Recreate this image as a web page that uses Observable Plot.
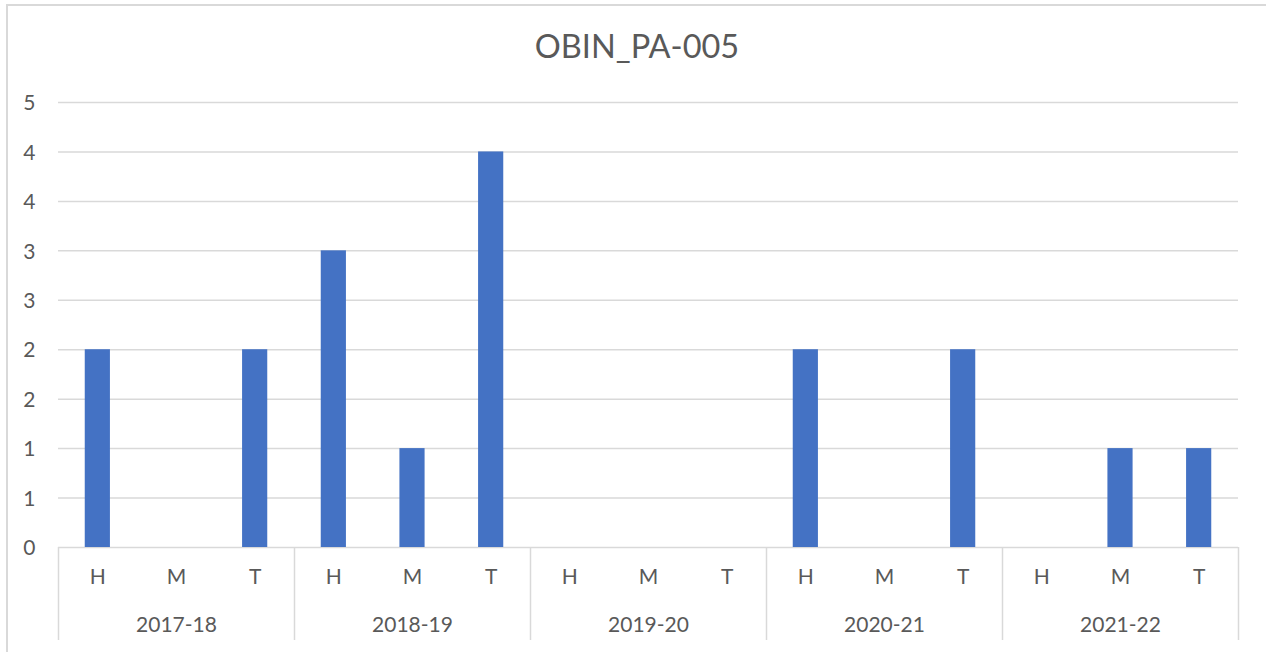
<!DOCTYPE html>
<html>
<head>
<meta charset="utf-8">
<script src="https://cdn.jsdelivr.net/npm/d3@7"></script>
<script src="https://cdn.jsdelivr.net/npm/@observablehq/plot@0.6"></script>
<style>
  html, body { margin: 0; padding: 0; background: #fff; overflow: hidden; }
  #frame { position: absolute; left: 6px; top: 4px; width: 1300px; height: 700px;
           border: 2px solid #d9d9d9; box-sizing: border-box; }
  #title { position: absolute; left: 6px; width: 1262px; top: 26px; text-align: center;
           font-family: Lato, "Open Sans", sans-serif; font-size: 32.5px; color: #595959; line-height: 40px; }
  #chart { position: absolute; left: 0; top: 0; }
</style>
</head>
<body>
<div id="frame"></div>
<div id="chart"></div>
<div id="title">OBIN_PA-005</div>
<script>
const years = ["2017-18", "2018-19", "2019-20", "2020-21", "2021-22"];
const terms = ["H", "M", "T"];
const counts = [2, 0, 2, 3, 1, 4, 0, 0, 0, 2, 0, 2, 0, 1, 1];
const yTicks = [0, 0.5, 1, 1.5, 2, 2.5, 3, 3.5, 4, 4.5];

const rows = [];
years.forEach((yr, i) => terms.forEach((t, j) => rows.push({year: yr, term: t, key: yr + "|" + t, value: counts[i * 3 + j]})));
const keys = rows.map(d => d.key);

const W = 1266, H = 652, mL = 58, mR = 28, mT = 102, mB = 105;
const step = (W - mL - mR) / keys.length;
const innerH = H - mT - mB;
const textColor = "#595959", gridColor = "#d9d9d9";

const plot = Plot.plot({
  width: W, height: H,
  marginLeft: mL, marginRight: mR, marginTop: mT, marginBottom: mB,
  style: {fontFamily: "Lato, 'Open Sans', sans-serif", background: "transparent", overflow: "visible"},
  x: {type: "band", domain: keys, paddingInner: 0.68, paddingOuter: 0.34, round: false, axis: null},
  y: {domain: [0, 4.5], axis: null},
  marks: [
    Plot.ruleY(yTicks, {y: d => d, stroke: gridColor, strokeWidth: 1.5}),
    Plot.barY(rows, {x: "key", y: "value", fill: "#4472C4"}),
    Plot.text(yTicks, {y: d => d, frameAnchor: "left", dx: -23, dy: 1, textAnchor: "end", text: d => String(Math.round(d)), fill: textColor, fontSize: 21}),
    Plot.text(rows, {x: "key", frameAnchor: "bottom", dy: 36, text: "term", fill: textColor, fontSize: 21}),
    Plot.text(years, {x: d => d + "|M", frameAnchor: "bottom", dy: 84, text: d => d, fill: textColor, fontSize: 21}),
    Plot.ruleX(years, {x: d => d + "|H", dx: -step / 2, insetTop: innerH, insetBottom: -93, stroke: gridColor, strokeWidth: 1.5}),
    Plot.ruleX(years.slice(-1), {x: d => d + "|T", dx: step / 2, insetTop: innerH, insetBottom: -93, stroke: gridColor, strokeWidth: 1.5})
  ]
});
document.getElementById("chart").appendChild(plot);
</script>
</body>
</html>
